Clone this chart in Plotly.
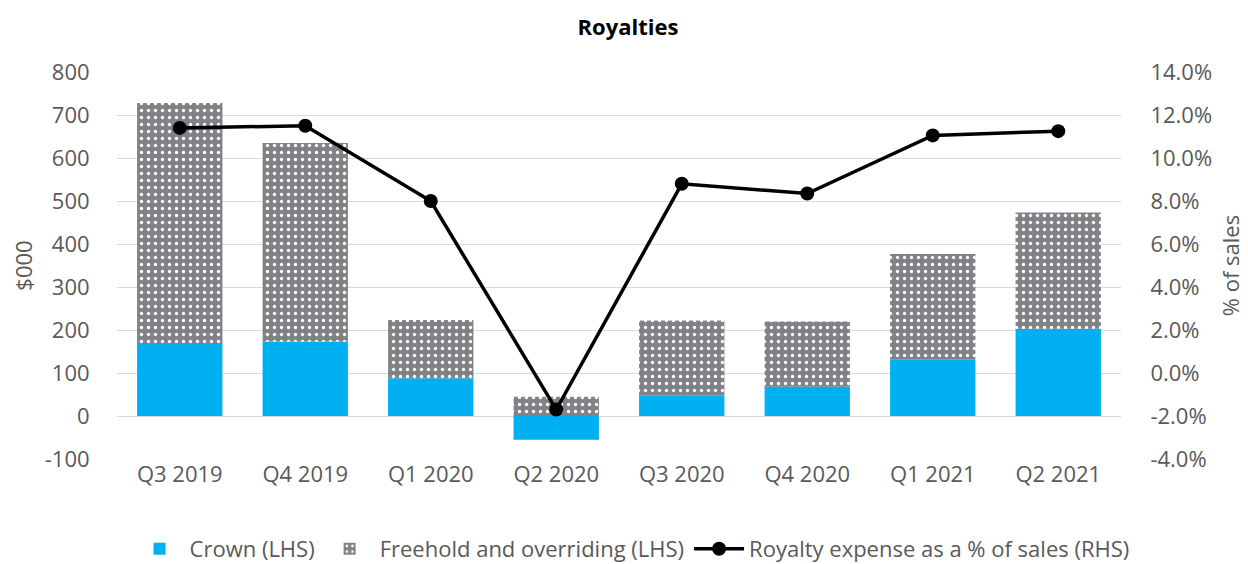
import plotly.graph_objects as go

quarters = ["Q3 2019", "Q4 2019", "Q1 2020", "Q2 2020", "Q3 2020", "Q4 2020", "Q1 2021", "Q2 2021"]
crown = [170, 173, 88, -55, 48, 68, 132, 203]
freehold = [558, 462, 135, 45, 174, 152, 245, 270]
royalty_pct = [11.4, 11.5, 8.0, -1.7, 8.8, 8.35, 11.05, 11.25]

left_ticks = [-100, 0, 100, 200, 300, 400, 500, 600, 700, 800]
left_labels = ["-100", "0", "100", "200", "300", "400", "500", "600", "700", "800"]
right_ticks = [-4, -2, 0, 2, 4, 6, 8, 10, 12, 14]
right_labels = ["-4.0%", "-2.0%", "0.0%", "2.0%", "4.0%", "6.0%", "8.0%", "10.0%", "12.0%", "14.0%"]

font_family = "Open Sans, Noto Sans, DejaVu Sans, sans-serif"
text_color = "#595959"
fs = 22

# page body has an 8px margin, so the figure is 1240x556 placed at (8, 8)
W, H = 1240, 556
ml, mt = 109, 64
pw, ph = 1004, 387

fig = go.Figure()
fig.add_trace(go.Bar(
    x=quarters, y=crown, name="Crown (LHS)",
    marker=dict(color="#00B0F0", line=dict(width=0)),
))
fig.add_trace(go.Bar(
    x=quarters, y=freehold, name="Freehold and overriding (LHS)",
    marker=dict(color="#808285", line=dict(width=0),
                pattern=dict(shape=".", bgcolor="#808285", fgcolor="#ffffff",
                             size=7, solidity=0.18, fillmode="replace")),
))
fig.add_trace(go.Scatter(
    x=quarters, y=royalty_pct, name="Royalty expense as a % of sales (RHS)",
    yaxis="y2", mode="lines+markers",
    line=dict(color="#000000", width=3.5),
    marker=dict(color="#000000", size=14),
))

fig.update_layout(
    width=W, height=H,
    barmode="relative",
    bargap=0.32,
    plot_bgcolor="white", paper_bgcolor="white",
    margin=dict(l=ml, r=W - ml - pw, t=mt, b=H - mt - ph, autoexpand=False),
    font=dict(family=font_family, size=fs, color=text_color),
    title=dict(text="<b>Royalties</b>", x=0.5, xanchor="center", y=1 - 19 / H, yanchor="middle",
               font=dict(size=22, color="#000000", family=font_family)),
    xaxis=dict(showgrid=False, showline=False, ticks="", automargin=False,
               tickfont=dict(size=fs, color=text_color)),
    yaxis=dict(range=[-100, 800], tickmode="array", tickvals=left_ticks, ticktext=left_labels,
               showgrid=True, gridcolor="#d9d9d9", gridwidth=1.3,
               zeroline=True, zerolinecolor="#d9d9d9", zerolinewidth=1.3, automargin=False,
               ticks="outside", ticklen=22, tickcolor="rgba(0,0,0,0)",
               title=dict(text="$000", font=dict(size=fs, color=text_color), standoff=10),
               tickfont=dict(size=fs, color=text_color)),
    yaxis2=dict(range=[-4, 14], tickmode="array", tickvals=right_ticks, ticktext=right_labels,
                overlaying="y", side="right", showgrid=False,
                zeroline=False, automargin=False,
                ticks="outside", ticklen=24, tickcolor="rgba(0,0,0,0)",
                title=dict(text="% of sales", font=dict(size=fs, color=text_color), standoff=12),
                tickfont=dict(size=fs, color=text_color)),
    legend=dict(orientation="h", x=0.513, xanchor="center", y=(ph - (541 - mt)) / ph, yanchor="middle",
                font=dict(size=fs, color=text_color), traceorder="normal",
                itemwidth=50),
    showlegend=True,
)

fig.write_html("out.html")
